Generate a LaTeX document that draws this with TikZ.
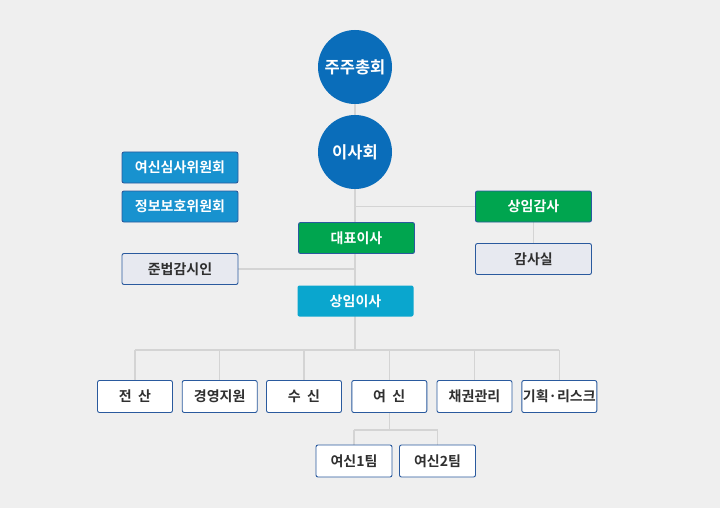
\documentclass[tikz,border=0pt]{standalone}
\usepackage{fontspec}
\newfontfamily\kr{Noto Sans CJK KR}[BoldFont={Noto Sans CJK KR Bold}]
\usetikzlibrary{calc}
\definecolor{bgc}{HTML}{EFEFEF}
\definecolor{linec}{HTML}{D4D4D4}
\definecolor{navy}{HTML}{2A5A9E}
\definecolor{circ}{HTML}{0A6DBA}
\definecolor{comm}{HTML}{1892CF}
\definecolor{grn}{HTML}{00A54F}
\definecolor{cyanb}{HTML}{0AA6CE}
\definecolor{grayb}{HTML}{E7E9F0}
\definecolor{txt}{HTML}{303030}
\pgfdeclarelayer{bg}
\pgfdeclarelayer{lines}
\pgfsetlayers{bg,lines,main}
\tikzset{
  round/.style={circle,fill=circ,minimum size=74pt,inner sep=0pt,text=white,font=\kr\bfseries\fontsize{16.5}{17}\selectfont},
  box/.style={rectangle,rounded corners=2pt,draw=navy,line width=.9pt,minimum width=116pt,minimum height=31pt,inner sep=0pt,font=\kr\bfseries\fontsize{14}{15}\selectfont},
  commbox/.style={box,fill=comm,text=white},
  greenbox/.style={box,fill=grn,text=white},
  graybox/.style={box,fill=grayb,text=txt},
  cyanbox/.style={box,draw=none,fill=cyanb,text=white},
  dept/.style={box,fill=white,text=txt,minimum width=75pt,minimum height=32pt},
  link/.style={draw=linec,line width=1.4pt}
}
\begin{document}
\begin{tikzpicture}[x=1pt,y=-1pt]
\begin{pgfonlayer}{bg}
\fill[bgc] (0,0) rectangle (720,508);
\end{pgfonlayer}
\useasboundingbox (0,0) rectangle (720,508);

\node[round] (ga) at (355,67) {주주총회};
\node[round] (bod) at (355,152) {이사회};

\node[commbox] (c1) at (180,167.5) {여신심사위원회};
\node[commbox] (c2) at (180,206.5) {정보보호위원회};
\node[graybox] (comp) at (180,269) {준법감시인};

\node[greenbox] (ceo) at (356.5,238) {대표이사};
\node[greenbox] (aud) at (533.5,206.5) {상임감사};
\node[graybox] (audr) at (533.5,259) {감사실};
\node[cyanbox] (exec) at (355.5,301) {상임이사};

\coordinate (bus) at (355,350);

% departments
\node[dept] (d1) at (135,396.5) {전\ \ 산};
\node[dept] (d2) at (219.7,396.5) {경영지원};
\node[dept] (d3) at (304,396.5) {수\ \ 신};
\node[dept] (d4) at (389.3,396.5) {여\ \ 신};
\node[dept] (d5) at (474.5,396.5) {채권관리};
\node[dept] (d6) at (559.3,396.5) {기획·리스크};

\coordinate (tbus) at (389.3,430);
\node[dept,minimum width=76pt] (t1) at (354,461) {여신1팀};
\node[dept,minimum width=76pt] (t2) at (437.5,461) {여신2팀};

\begin{pgfonlayer}{lines}
\draw[link] (ga) -- (bod);
\draw[link] (bod) -- (bus);
\draw[link] (bod |- aud) -- (aud);
\draw[link] (aud) -- (audr);
\draw[link] (comp) -- (comp -| bod);
\draw[link] (d1 |- bus) -- (d6 |- bus);
\foreach \d in {d1,d2,d3,d4,d5,d6}
  \draw[link] (\d) -- (\d |- bus);
\draw[link] (d4) -- (tbus);
\draw[link] (t1 |- tbus) -- (t2 |- tbus);
\draw[link] (t1) -- (t1 |- tbus);
\draw[link] (t2) -- (t2 |- tbus);
\end{pgfonlayer}
\end{tikzpicture}
\end{document}
